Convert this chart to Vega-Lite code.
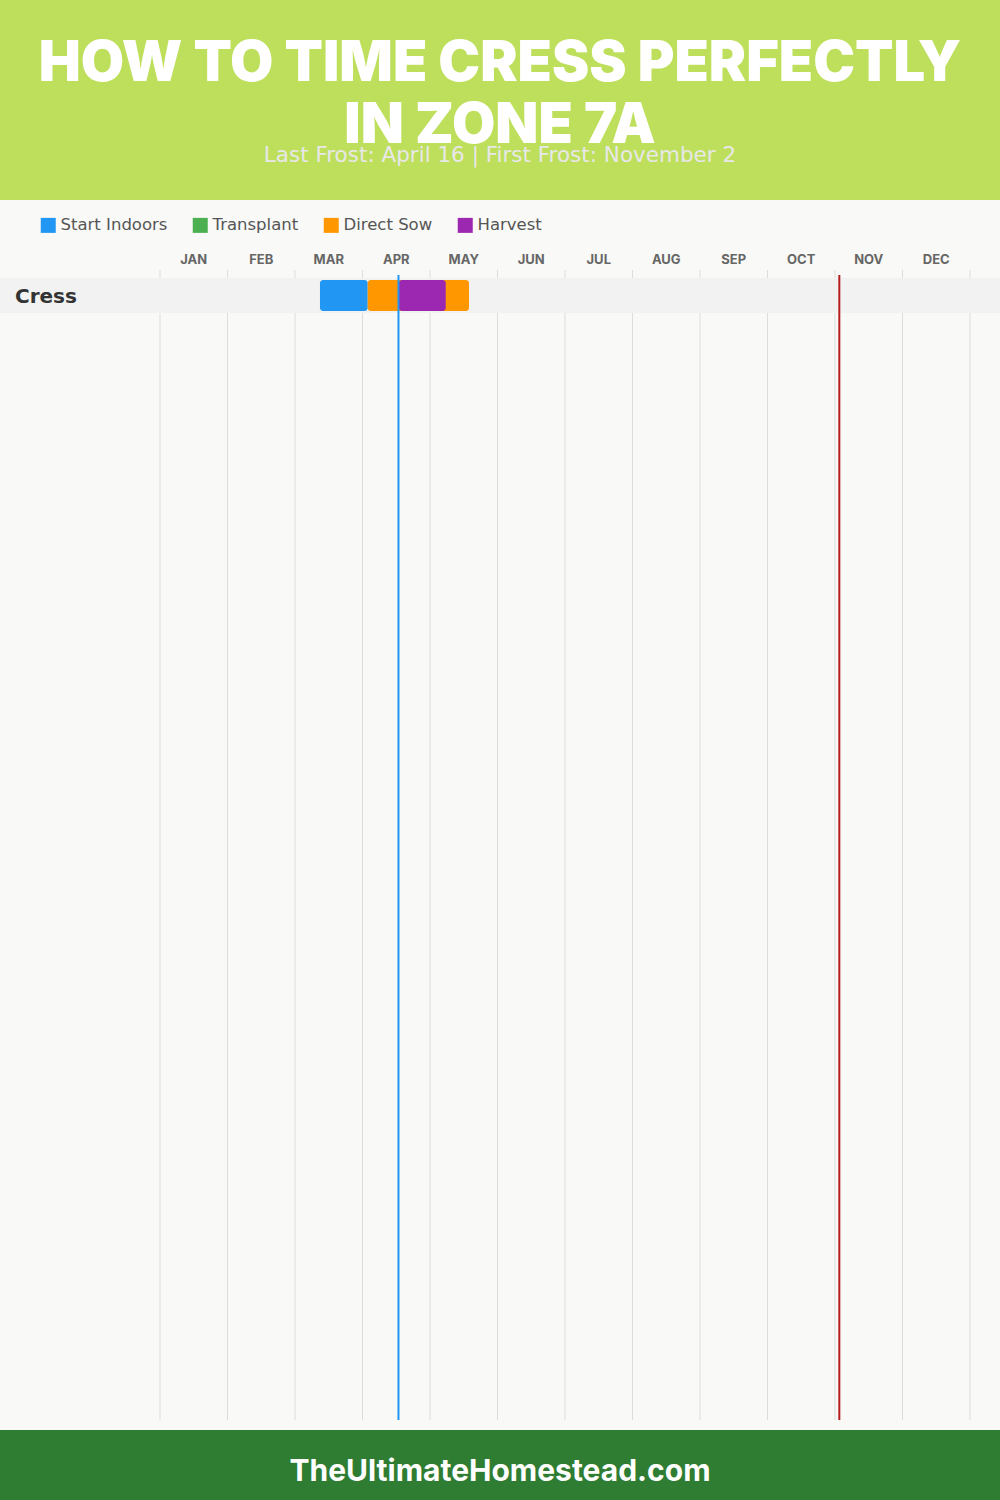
{
  "$schema": "https://vega.github.io/schema/vega-lite/v6.json",
  "padding": 0,
  "background": "#f9f9f7",
  "spacing": 0,
  "config": {"view": {"stroke": null}, "font": "Inter"},
  "datasets": {
    "titleLines": [{"line": "HOW TO TIME CRESS PERFECTLY", "row": 1}, {"line": "IN ZONE 7A", "row": 2}],
    "subtitle": [{"text": "Last Frost: April 16 | First Frost: November 2"}],
    "phases": [
      {"crop": "Cress", "activity": "Start Indoors", "start": 2.37, "end": 3.077},
      {"crop": "Cress", "activity": "Direct Sow", "start": 3.077, "end": 4.578},
      {"crop": "Cress", "activity": "Harvest", "start": 3.541, "end": 4.233}
    ],
    "months": [
      {"month": "JAN", "mid": 0.5}, {"month": "FEB", "mid": 1.5}, {"month": "MAR", "mid": 2.5},
      {"month": "APR", "mid": 3.5}, {"month": "MAY", "mid": 4.5}, {"month": "JUN", "mid": 5.5},
      {"month": "JUL", "mid": 6.5}, {"month": "AUG", "mid": 7.5}, {"month": "SEP", "mid": 8.5},
      {"month": "OCT", "mid": 9.5}, {"month": "NOV", "mid": 10.5}, {"month": "DEC", "mid": 11.5}
    ],
    "bounds": [
      {"b": 0}, {"b": 1}, {"b": 2}, {"b": 3}, {"b": 4}, {"b": 5}, {"b": 6},
      {"b": 7}, {"b": 8}, {"b": 9}, {"b": 10}, {"b": 11}, {"b": 12}
    ],
    "lastFrost": [{"event": "Last Frost", "m": 3.533}],
    "firstFrost": [{"event": "First Frost", "m": 10.064}],
    "crops": [{"crop": "Cress"}],
    "footer": [{"text": "TheUltimateHomestead.com"}]
  },
  "vconcat": [
    {
      "width": 1000,
      "height": 200,
      "view": {"fill": "#bedf5c", "stroke": null},
      "layer": [
        {
          "data": {"name": "titleLines"},
          "mark": {"type": "text", "font": "Inter", "fontWeight": 900, "fontSize": 56, "fill": "white", "align": "center", "baseline": "alphabetic"},
          "encoding": {
            "x": {"value": 500},
            "y": {"field": "row", "type": "ordinal", "scale": {"domain": [1, 2], "range": [81, 143], "padding": 0}, "axis": null},
            "text": {"field": "line"}
          }
        },
        {
          "data": {"name": "subtitle"},
          "mark": {"type": "text", "font": "DejaVu Sans", "fontWeight": 400, "fontSize": 21.5, "fill": "#e8e8e8", "align": "center", "baseline": "alphabetic"},
          "encoding": {
            "x": {"value": 500},
            "y": {"value": 162},
            "text": {"field": "text"}
          }
        }
      ]
    },
    {
      "width": 1000,
      "height": 1230,
      "view": {"fill": "#f9f9f7", "stroke": null},
      "layer": [
        {
          "data": {"name": "bounds"},
          "mark": {"type": "rule", "stroke": "#dddddd", "strokeWidth": 1},
          "encoding": {
            "x": {"field": "b", "type": "quantitative", "scale": {"domain": [0, 12], "range": [160, 970], "nice": false, "zero": false}, "axis": null},
            "y": {"value": 70},
            "y2": {"value": 1220}
          }
        },
        {
          "data": {"name": "months"},
          "mark": {"type": "text", "fontWeight": 700, "fontSize": 13, "fill": "#666666", "align": "center", "baseline": "alphabetic"},
          "encoding": {
            "x": {"field": "mid", "type": "quantitative"},
            "y": {"value": 64},
            "text": {"field": "month"}
          }
        },
        {
          "data": {"name": "crops"},
          "mark": {"type": "rect", "fill": "#f2f2f2"},
          "encoding": {
            "y": {"field": "crop", "type": "nominal", "scale": {"domain": ["Cress"], "range": [78, 113], "paddingInner": 0, "paddingOuter": 0}, "axis": null},
            "x": {"value": 0},
            "x2": {"value": 1000}
          }
        },
        {
          "data": {"name": "crops"},
          "mark": {"type": "text", "font": "DejaVu Sans", "fontWeight": 700, "fontSize": 20, "fill": "#333333", "align": "left", "baseline": "middle", "dy": 1},
          "encoding": {
            "y": {"field": "crop", "type": "nominal"},
            "x": {"value": 15},
            "text": {"field": "crop"}
          }
        },
        {
          "data": {"name": "phases"},
          "mark": {"type": "bar", "cornerRadius": 3, "height": {"band": 0.88}},
          "encoding": {
            "y": {"field": "crop", "type": "nominal"},
            "x": {"field": "start", "type": "quantitative"},
            "x2": {"field": "end"},
            "color": {
              "field": "activity",
              "type": "nominal",
              "sort": null,
              "scale": {"domain": ["Start Indoors", "Transplant", "Direct Sow", "Harvest"], "range": ["#2196f3", "#4caf50", "#ff9800", "#9c27b0"]},
              "legend": {
                "orient": "none", "legendX": 40, "legendY": 217, "direction": "horizontal", "title": null,
                "symbolType": "square", "symbolSize": 225, "symbolStrokeWidth": 0, "symbolOpacity": 1,
                "labelFontSize": 16.5, "labelColor": "#555555", "labelFont": "DejaVu Sans", "labelOffset": 4,
                "columnPadding": 24, "padding": 0
              }
            }
          }
        },
        {
          "data": {"name": "lastFrost"},
          "mark": {"type": "rule", "stroke": "#2196f3", "strokeWidth": 2},
          "encoding": {
            "x": {"field": "m", "type": "quantitative"},
            "y": {"value": 75},
            "y2": {"value": 1220}
          }
        },
        {
          "data": {"name": "firstFrost"},
          "mark": {"type": "rule", "stroke": "#b71c1c", "strokeWidth": 2},
          "encoding": {
            "x": {"field": "m", "type": "quantitative"},
            "y": {"value": 75},
            "y2": {"value": 1220}
          }
        }
      ]
    },
    {
      "width": 1000,
      "height": 70,
      "view": {"fill": "#2e7d32", "stroke": null},
      "layer": [
        {
          "data": {"name": "footer"},
          "mark": {"type": "text", "fontWeight": 700, "fontSize": 30, "fill": "white", "align": "center", "baseline": "alphabetic"},
          "encoding": {
            "x": {"value": 500},
            "y": {"value": 51},
            "text": {"field": "text"}
          }
        }
      ]
    }
  ]
}
